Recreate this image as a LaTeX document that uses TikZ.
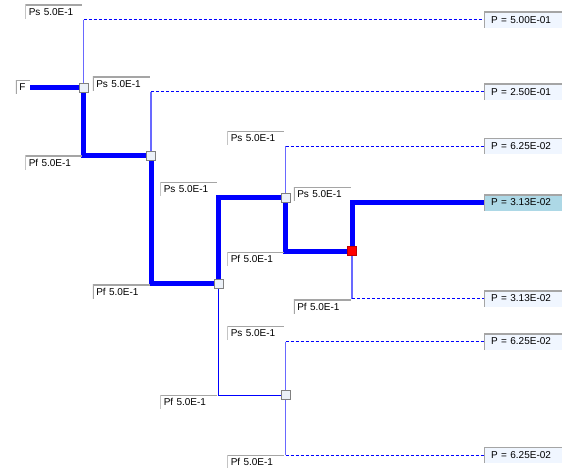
\documentclass[tikz,border=0pt]{standalone}
\usepackage{fontspec}
\setmainfont{Liberation Sans}
\usepackage{tikz}
\usetikzlibrary{backgrounds}

\definecolor{linkblue}{RGB}{0,0,255}
\definecolor{paleblue}{RGB}{105,105,255}
\definecolor{etch}{RGB}{165,165,165}
\definecolor{leafbg}{RGB}{240,246,255}
\definecolor{hilite}{RGB}{173,216,230}
\definecolor{knotbg}{RGB}{236,241,248}

\begin{document}
\begin{tikzpicture}[
  x=1pt, y=-1pt,
  font=\fontsize{10}{12}\selectfont,
  etched/.style={path picture={\draw[etch, line width=2pt]
      (path picture bounding box.south west) -- (path picture bounding box.north west)
      -- (path picture bounding box.north east);}},
  tag/.style={etched, text width=50pt, align=left, inner xsep=3.5pt,
              inner ysep=0pt, minimum height=14pt},
  leaf/.style={etched, fill=leafbg, anchor=west, text width=64pt, align=left,
               inner xsep=7pt, inner ysep=0pt, minimum height=16pt},
  knot/.style={rectangle, draw=gray, fill=knotbg, line width=0.8pt,
               minimum size=9pt, inner sep=0pt},
  crit/.style={linkblue, line width=5pt},
  link/.style={linkblue, line width=1pt},
  stem/.style={paleblue, line width=1.8pt},
  twig/.style={linkblue, line width=1pt, dash pattern=on 3pt off 2pt},
]
\useasboundingbox (0,0) rectangle (565,468);

% junctions
\node[knot] (j1) at (83.5,87.5) {};
\node[knot] (j2) at (151,155.5) {};
\node[knot] (j3) at (218.5,283.5) {};
\node[knot] (j4) at (285.5,197.5) {};
\node[knot, fill=red, draw=red!75!black] (j5) at (352,251) {};
\node[knot] (j6) at (285.5,395) {};

% outcomes
\node[leaf] (p1) at (484,20) {P = 5.00E-01};
\node[leaf] (p2) at (484,92) {P = 2.50E-01};
\node[leaf] (p3) at (484,146.5) {P = 6.25E-02};
\node[leaf, fill=hilite] (p4) at (484,202.5) {P = 3.13E-02};
\node[leaf] (p5) at (484,298.5) {P = 3.13E-02};
\node[leaf] (p6) at (484,341.5) {P = 6.25E-02};
\node[leaf] (p7) at (484,455) {P = 6.25E-02};

% corners of the outcome branches
\coordinate (c1) at (j1 |- p1);
\coordinate (c2) at (j2 |- p2);
\coordinate (c3) at (j4 |- p3);
\coordinate (c5) at (j5 |- p5);
\coordinate (c6) at (j6 |- p6);
\coordinate (c7) at (j6 |- p7);

% branch tags
\node[tag, text width=7pt, anchor=east] (f) at (30,87.5) {F};
\node[tag, anchor=south east] (t1s) at ([shift={(-1,-1)}]c1) {Ps 5.0E-1};
\node[tag, anchor=north east] (t1f) at ([shift={(-1,0)}]j1 |- j2) {Pf 5.0E-1};
\node[tag, anchor=south east] (t2s) at ([shift={(-1,-1)}]c2) {Ps 5.0E-1};
\node[tag, anchor=north east] (t2f) at ([shift={(-1,1)}]j2 |- j3) {Pf 5.0E-1};
\node[tag, anchor=south east] (t3s) at ([shift={(-1,-1)}]j3 |- j4) {Ps 5.0E-1};
\node[tag, anchor=north east] (t3f) at ([shift={(-1,0)}]j3 |- j6) {Pf 5.0E-1};
\node[tag, anchor=south east] (t4s) at ([shift={(-1,-1)}]c3) {Ps 5.0E-1};
\node[tag, anchor=north east] (t4f) at ([shift={(-1,1)}]j4 |- j5) {Pf 5.0E-1};
\node[tag, anchor=south east] (t5s) at ([shift={(-1,-1)}]j5 |- p4) {Ps 5.0E-1};
\node[tag, anchor=north east] (t5f) at ([shift={(-1,1)}]c5) {Pf 5.0E-1};
\node[tag, anchor=south east] (t6s) at ([shift={(-1,-1)}]c6) {Ps 5.0E-1};
\node[tag, anchor=north east] (t6f) at ([shift={(-1,0)}]c7) {Pf 5.0E-1};

\begin{scope}[on background layer]
  \fill[white] (0,0) rectangle (565,468);
  % most likely path
  \draw[crit] (f) -- (j1);
  \draw[crit] (j1) |- (j2);
  \draw[crit] (j2) |- (j3);
  \draw[crit] (j3) |- (j4);
  \draw[crit] (j4) |- (j5);
  \draw[crit] (j5) |- (p4);
  \draw[link] (j3) |- (j6);
  % other outcomes
  \draw[stem] (j1) -- (c1);  \draw[twig] (c1) -- (p1);
  \draw[stem] (j2) -- (c2);  \draw[twig] (c2) -- (p2);
  \draw[stem] (j4) -- (c3);  \draw[twig] (c3) -- (p3);
  \draw[stem] (j5) -- (c5);  \draw[twig] (c5) -- (p5);
  \draw[stem] (j6) -- (c6);  \draw[twig] (c6) -- (p6);
  \draw[stem] (j6) -- (c7);  \draw[twig] (c7) -- (p7);
\end{scope}
\end{tikzpicture}
\end{document}
